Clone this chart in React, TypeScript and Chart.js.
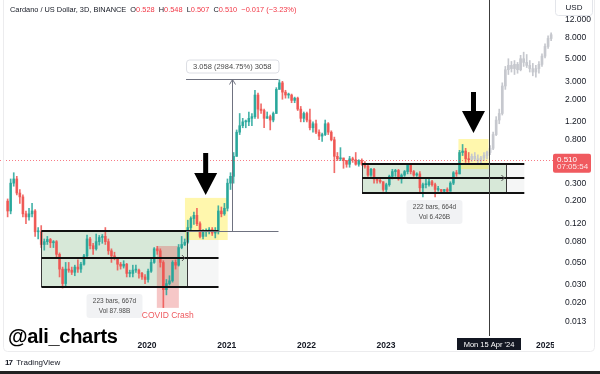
import React, { useEffect, useRef } from 'react';
import { Chart, registerables } from 'chart.js';
Chart.register(...registerables);

// ---- candle data (14-day candles, ADA/USD) ----
const candleStart = '2018-03-26';
const candleStepDays = 14;
const opens = [
  .20, .16, .30, .33, .24, .22, .15, .14, .15, .16,
  .10, .10, .075, .08, .084, .078, .08, .06, .043, .031,
  .043, .042, .04, .045, .043, .048, .058, .085, .073, .068,
  .08, .088, .09, .08, .065, .058, .055, .048, .046, .048,
  .039, .039, .042, .042, .039, .036, .034, .041, .05, .068,
  .065, .05, .027, .031, .033, .05, .047, .07, .075, .079,
  .11, .135, .145, .12, .09, .10, .10, .105, .097, .10,
  .16, .15, .17, .30, .35, .55, .95, 1.1, 1.2, 1.2,
  1.3, 1.35, 2.2, 1.6, 1.55, 1.3, 1.35, 1.25, 1.45, 2.5,
  2.9, 2.35, 2.2, 2.2, 1.95, 2.05, 1.6, 1.3, 1.45, 1.25,
  1.05, 1.15, .95, .87, .90, 1.15, .95, .80, .55, .52,
  .53, .50, .46, .52, .51, .46, .50, .46, .44, .36,
  .41, .33, .32, .31, .26, .29, .35, .39, .40, .33,
  .36, .39, .45, .39, .36, .37, .27, .29, .29, .31,
  .29, .26, .26, .25, .26, .25, .30, .38, .37, .60,
  .62, .52,
];
const highs = [
  .21, .33, .38, .35, .26, .23, .16, .17, .19, .165,
  .11, .115, .085, .09, .086, .082, .082, .062, .045, .05,
  .05, .045, .047, .053, .05, .06, .093, .088, .077, .095,
  .092, .094, .11, .085, .068, .063, .056, .05, .052, .049,
  .042, .047, .047, .043, .04, .038, .043, .055, .07, .072,
  .068, .052, .034, .037, .052, .053, .075, .09, .085, .13,
  .14, .156, .17, .125, .105, .107, .11, .11, .11, .18,
  .175, .19, .33, .38, .60, 1.0, 1.45, 1.3, 1.25, 1.5,
  1.45, 2.45, 2.3, 1.8, 1.6, 1.5, 1.4, 1.5, 2.6, 3.1,
  3.0, 2.45, 2.3, 2.25, 2.1, 2.1, 1.7, 1.5, 1.5, 1.6,
  1.2, 1.25, 1.0, .93, 1.25, 1.18, .98, .85, .60, .67,
  .53, .50, .55, .54, .60, .51, .52, .49, .45, .42,
  .42, .34, .33, .31, .30, .36, .41, .41, .41, .37,
  .40, .46, .46, .40, .38, .39, .30, .33, .34, .32,
  .30, .28, .26, .26, .27, .31, .39, .40, .63, .72,
  .66, .60,
];
const lows = [
  .14, .15, .28, .23, .19, .14, .12, .13, .14, .09,
  .085, .07, .066, .075, .07, .07, .055, .036, .028, .029,
  .04, .038, .037, .04, .04, .047, .055, .068, .06, .066,
  .074, .077, .075, .06, .05, .053, .042, .043, .044, .036,
  .036, .036, .04, .035, .034, .031, .032, .04, .049, .06,
  .045, .018, .024, .03, .032, .043, .046, .068, .073, .077,
  .10, .118, .115, .087, .085, .09, .095, .092, .087, .095,
  .14, .145, .16, .26, .30, .55, .90, 1.05, 1.05, 1.1,
  1.1, 1.3, 1.3, 1.45, 1.05, 1.3, 1.0, 1.2, 1.45, 2.5,
  2.0, 2.05, 2.05, 1.85, 1.85, 1.55, 1.2, 1.2, 1.2, 1.0,
  .95, .92, .80, .77, .88, .90, .78, .38, .50, .50,
  .42, .43, .43, .48, .45, .44, .45, .42, .35, .35,
  .30, .30, .30, .25, .24, .28, .33, .35, .32, .30,
  .35, .37, .37, .35, .35, .24, .22, .27, .28, .28,
  .22, .25, .24, .24, .24, .25, .29, .35, .37, .56,
  .48, .48,
];
const closes = [
  .16, .30, .33, .24, .22, .15, .14, .15, .16, .10,
  .10, .075, .08, .084, .078, .08, .06, .043, .031, .043,
  .042, .04, .045, .043, .048, .058, .085, .073, .068, .08,
  .088, .09, .08, .065, .058, .055, .048, .046, .048, .039,
  .039, .042, .042, .039, .036, .034, .041, .05, .068, .065,
  .05, .027, .031, .033, .05, .047, .07, .075, .079, .11,
  .135, .145, .12, .09, .10, .10, .105, .097, .10, .16,
  .15, .17, .30, .35, .55, .95, 1.1, 1.2, 1.2, 1.3,
  1.35, 2.2, 1.6, 1.55, 1.3, 1.35, 1.25, 1.45, 2.5, 2.9,
  2.35, 2.2, 2.2, 1.95, 2.05, 1.6, 1.3, 1.45, 1.25, 1.05,
  1.15, .95, .87, .90, 1.15, .95, .80, .55, .52, .53,
  .50, .46, .52, .51, .46, .50, .46, .44, .36, .41,
  .33, .32, .31, .26, .29, .35, .39, .40, .33, .36,
  .39, .45, .39, .36, .37, .27, .29, .29, .31, .29,
  .26, .26, .25, .26, .25, .30, .38, .37, .60, .62,
  .52, .51,
];
// projected "bars pattern" (grey ghost candles)
const ghostOpens = [.51, .55, .52, .50, .53, .56, .60, .66, .90, 1.25, 1.45, 2.7, 3.9, 4.3, 4.0, 4.4, 3.9, 5.0, 4.6, 4.3, 4.0, 3.7, 4.0, 4.4, 5.3, 6.6, 7.9];
const ghostHighs = [.58, .60, .57, .55, .60, .62, .70, .95, 1.35, 1.6, 2.9, 4.2, 5.0, 4.7, 4.8, 4.6, 5.4, 5.8, 5.5, 4.8, 4.5, 4.3, 4.7, 5.6, 7.0, 8.4, 9.0];
const ghostLows = [.49, .50, .47, .46, .50, .52, .57, .64, .88, 1.15, 1.4, 2.5, 3.5, 3.7, 3.5, 3.6, 3.8, 4.2, 4.1, 3.7, 3.4, 3.3, 3.6, 4.2, 5.1, 6.3, 7.5];
const ghostCloses = [.55, .52, .50, .53, .56, .60, .66, .90, 1.25, 1.45, 2.7, 3.9, 4.3, 4.0, 4.4, 3.9, 5.0, 4.6, 4.3, 4.0, 3.7, 4.0, 4.4, 5.3, 6.6, 7.9, 8.6];

// ---- axes ----
const yTicks = [12, 8, 5, 3, 2, 1.2, 0.8, 0.3, 0.2, 0.12, 0.08, 0.05, 0.03, 0.02, 0.013];
const yearTicks = [2020, 2021, 2022, 2023, 2025];

// ---- drawings (data coordinates) ----
const box1Dates = ['2018-09-04', '2020-07-02', '2020-11-24'];
const box1Levels = [0.1025, 0.055, 0.0287];
const box1Label = ['223 bars, 667d', 'Vol 87.98B'];
const box1LabelDate = '2019-08-05';
const box2Dates = ['2022-09-13', '2024-07-06', '2024-09-26'];
const box2Levels = [0.463, 0.337, 0.24];
const box2Label = ['222 bars, 664d', 'Vol 6.426B'];
const box2LabelDate = '2023-08-11';
const covidDates = ['2020-02-15', '2020-05-26'];
const covidLevels = [0.0725, 0.0179];
const covidText = 'COVID Crash';
const yellow1Dates = ['2020-06-23', '2021-01-05'];
const yellow1Levels = [0.215, 0.083];
const yellow2Dates = ['2023-11-29', '2024-04-15'];
const yellow2Levels = [0.814, 0.413];
const arrow1 = { date: '2020-09-26', from: 0.593, to: 0.2296 };
const arrow2 = { date: '2024-02-06', from: 2.36, to: 0.933 };
const measureDates = ['2020-06-28', '2021-01-23', '2021-08-26'];
const measureLevels = [0.10245, 3.1605];
const measureText = '3.058 (2984.75%) 3058';
const crosshairDate = '2024-04-15';
const crosshairText = "Mon 15 Apr '24";
const lastPrice = 0.51;
const lastPriceText = ['0.510', '07:05:54'];

const DAY = 86400000;
const YEAR = 365.25 * DAY;
const t2020 = Date.UTC(2020, 0, 1);
const xMin = t2020 - (147 / 79.66) * YEAR;
const xMax = t2020 + ((553 - 147) / 79.66) * YEAR;
const yMin = Math.pow(10, 1.0792 - 316 / 101.85);
const yMax = Math.pow(10, 1.0792 + 20 / 101.85);

const UP = 'rgba(38,166,154,0.85)';
const DOWN = 'rgba(239,83,80,0.85)';
const GHOST = '#c6c8ce';
const FONT = '"Liberation Sans", Arial, Helvetica, sans-serif';

const t0 = Date.parse(candleStart);
const candleX = (i: number) => t0 + (i * candleStepDays + 7) * DAY;

function rr(ctx: CanvasRenderingContext2D, x: number, y: number, w: number, h: number, r: number) {
  ctx.beginPath();
  if ((ctx as any).roundRect) (ctx as any).roundRect(x, y, w, h, r);
  else ctx.rect(x, y, w, h);
}

function drawArrow(ctx: CanvasRenderingContext2D, x: number, yTop: number, yTip: number) {
  const headH = 22, headW = 23, shaftW = 5;
  ctx.beginPath();
  ctx.moveTo(x - shaftW / 2, yTop);
  ctx.lineTo(x + shaftW / 2, yTop);
  ctx.lineTo(x + shaftW / 2, yTip - headH);
  ctx.lineTo(x + headW / 2, yTip - headH);
  ctx.lineTo(x, yTip);
  ctx.lineTo(x - headW / 2, yTip - headH);
  ctx.lineTo(x - shaftW / 2, yTip - headH);
  ctx.closePath();
  ctx.fill();
}

const drawingsPlugin = {
  id: 'drawings',
  beforeDatasetsDraw(chart: any) {
    const { ctx, chartArea: a, scales } = chart;
    const X = (d: string) => scales.x.getPixelForValue(Date.parse(d));
    const Y = (v: number) => scales.y.getPixelForValue(v);
    ctx.save();
    ctx.beginPath();
    ctx.rect(a.left, a.top, a.right - a.left, a.bottom - a.top);
    ctx.clip();
    for (const [dates, lv] of [[box1Dates, box1Levels], [box2Dates, box2Levels]] as any) {
      const x0 = X(dates[0]), x1 = X(dates[1]), x2 = X(dates[2]);
      const yT = Y(lv[0]), yB = Y(lv[2]);
      ctx.fillStyle = 'rgba(56,142,60,0.2)';
      ctx.fillRect(x0, yT, x1 - x0, yB - yT);
      ctx.fillStyle = 'rgba(120,123,134,0.07)';
      ctx.fillRect(x1, yT, x2 - x1, yB - yT);
    }
    ctx.fillStyle = 'rgba(225,70,70,0.3)';
    ctx.fillRect(X(covidDates[0]), Y(covidLevels[0]), X(covidDates[1]) - X(covidDates[0]), Y(covidLevels[1]) - Y(covidLevels[0]));
    ctx.fillStyle = 'rgba(255,235,59,0.42)';
    for (const [dates, lv] of [[yellow1Dates, yellow1Levels], [yellow2Dates, yellow2Levels]] as any) {
      ctx.fillRect(X(dates[0]), Y(lv[0]), X(dates[1]) - X(dates[0]), Y(lv[1]) - Y(lv[0]));
    }
    ctx.restore();
  },
  afterDatasetsDraw(chart: any) {
    const { ctx, chartArea: a, scales } = chart;
    const X = (d: string) => scales.x.getPixelForValue(Date.parse(d));
    const Y = (v: number) => scales.y.getPixelForValue(v);
    ctx.save();
    ctx.beginPath();
    ctx.rect(a.left, a.top, a.right - a.left, a.bottom - a.top);
    ctx.clip();

    // price line
    ctx.strokeStyle = 'rgba(242,54,69,0.65)';
    ctx.lineWidth = 1;
    ctx.setLineDash([1, 2]);
    const yp = Math.round(Y(lastPrice)) + 0.5;
    ctx.beginPath(); ctx.moveTo(a.left, yp); ctx.lineTo(a.right, yp); ctx.stroke();
    ctx.setLineDash([]);

    // boxes
    for (const [dates, lv, label, ld] of [[box1Dates, box1Levels, box1Label, box1LabelDate], [box2Dates, box2Levels, box2Label, box2LabelDate]] as any) {
      const x0 = X(dates[0]), x1 = X(dates[1]), x2 = X(dates[2]);
      const yT = Y(lv[0]), yB = Y(lv[2]);
      ctx.strokeStyle = '#3a3a3a';
      ctx.lineWidth = 1;
      ctx.beginPath();
      ctx.moveTo(Math.round(x0) + 0.5, yT); ctx.lineTo(Math.round(x0) + 0.5, yB);
      ctx.moveTo(Math.round(x1) + 0.5, yT); ctx.lineTo(Math.round(x1) + 0.5, yB);
      ctx.stroke();
      ctx.strokeStyle = '#111';
      ctx.lineWidth = 2;
      ctx.beginPath();
      for (const v of lv) {
        const yy = Math.round(Y(v));
        ctx.moveTo(x0, yy); ctx.lineTo(x2, yy);
      }
      ctx.stroke();
      // chevron on mid line
      const ym = Math.round(Y(lv[1]));
      ctx.lineWidth = 1;
      ctx.strokeStyle = '#555';
      ctx.beginPath();
      ctx.moveTo(x1 - 5, ym - 3); ctx.lineTo(x1 - 2, ym); ctx.lineTo(x1 - 5, ym + 3);
      ctx.stroke();
      // label
      const cx = X(ld);
      const top = yB + 7;
      ctx.fillStyle = 'rgba(240,241,243,0.95)';
      rr(ctx, cx - 28, top, 56, 24, 3);
      ctx.fill();
      ctx.fillStyle = '#4a4a4a';
      ctx.font = `6.5px ${FONT}`;
      ctx.textAlign = 'center';
      ctx.textBaseline = 'middle';
      ctx.fillText(label[0], cx, top + 7);
      ctx.fillText(label[1], cx, top + 17.5);
    }

    // covid text
    ctx.fillStyle = '#ee5a5f';
    ctx.font = `8.5px ${FONT}`;
    ctx.textAlign = 'center';
    ctx.textBaseline = 'middle';
    ctx.fillText(covidText, (X(covidDates[0]) + X(covidDates[1])) / 2, Y(covidLevels[1]) + 8);

    // measure tool
    const mx0 = X(measureDates[0]), mx = Math.round(X(measureDates[1])) + 0.5, mx1 = X(measureDates[2]);
    const mb = Math.round(Y(measureLevels[0])) + 0.5, mt = Math.round(Y(measureLevels[1])) + 0.5;
    ctx.strokeStyle = '#6f7280';
    ctx.lineWidth = 1;
    ctx.beginPath();
    ctx.moveTo(mx0, mb); ctx.lineTo(mx1, mb);
    ctx.moveTo(mx0, mt); ctx.lineTo(mx1, mt);
    ctx.moveTo(mx, mb); ctx.lineTo(mx, mt);
    ctx.moveTo(mx - 3, mt + 5); ctx.lineTo(mx, mt); ctx.lineTo(mx + 3, mt + 5);
    ctx.stroke();
    const lw = mx1 - mx0;
    ctx.fillStyle = '#fff';
    rr(ctx, mx0 + 0.5, mt - 19.5, lw, 13, 3);
    ctx.fill();
    ctx.strokeStyle = '#dcdee4';
    ctx.stroke();
    ctx.fillStyle = '#4a4a4a';
    ctx.font = `7.5px ${FONT}`;
    ctx.fillText(measureText, (mx0 + mx1) / 2, mt - 12.5);

    // arrows
    ctx.fillStyle = '#000';
    for (const ar of [arrow1, arrow2]) drawArrow(ctx, X(ar.date), Y(ar.from), Y(ar.to));

    // crosshair vertical
    const cxh = Math.round(X(crosshairDate)) + 0.5;
    ctx.strokeStyle = '#3c3c3c';
    ctx.beginPath(); ctx.moveTo(cxh, a.top); ctx.lineTo(cxh, a.bottom); ctx.stroke();
    ctx.restore();
  },
  afterDraw(chart: any) {
    const { ctx, chartArea: a, scales } = chart;
    const X = (d: string) => scales.x.getPixelForValue(Date.parse(d));
    const Y = (v: number) => scales.y.getPixelForValue(v);
    ctx.save();
    // price-scale pane clips the time-axis labels
    ctx.fillStyle = '#fff';
    ctx.fillRect(a.right + 1, a.bottom + 1, 10, 14);
    // date label
    const cxh = Math.round(X(crosshairDate));
    ctx.fillStyle = '#131722';
    ctx.fillRect(cxh - 32, a.bottom + 2, 64, 12);
    ctx.fillStyle = '#fff';
    ctx.font = `7.5px ${FONT}`;
    ctx.textAlign = 'center';
    ctx.textBaseline = 'middle';
    ctx.fillText(crosshairText, cxh, a.bottom + 8.5);
    // last price label
    const yp = Y(lastPrice);
    ctx.fillStyle = '#f05a5f';
    rr(ctx, a.right, yp - 6, 38, 19, 2);
    ctx.fill();
    ctx.fillStyle = '#fff';
    ctx.textAlign = 'left';
    ctx.font = `8px ${FONT}`;
    ctx.fillText(lastPriceText[0], a.right + 4, yp);
    ctx.fillStyle = 'rgba(255,255,255,0.85)';
    ctx.fillText(lastPriceText[1], a.right + 4, yp + 7.5);
    // USD box
    ctx.fillStyle = '#fff';
    rr(ctx, a.right + 2.5, -3.5, 37, 19, 3);
    ctx.fill();
    ctx.strokeStyle = '#e3e5ea';
    ctx.lineWidth = 1;
    ctx.stroke();
    ctx.fillStyle = '#131722';
    ctx.textAlign = 'center';
    ctx.font = `8px ${FONT}`;
    ctx.fillText('USD', a.right + 21, 8);
    // frame
    ctx.strokeStyle = '#ececee';
    rr(ctx, 3.5, -6.5, 591, 358, 4);
    ctx.stroke();
    ctx.restore();
  },
};

export default function App() {
  const ref = useRef<HTMLCanvasElement>(null);
  useEffect(() => {
    if (!ref.current) return;
    const realX = opens.map((_, i) => candleX(i));
    const ghostX = ghostOpens.map((_, i) => candleX(opens.length + i));
    const realCol = opens.map((o, i) => (closes[i] >= o ? UP : DOWN));
    const bar = (data: any[], color: any, w: number) => ({
      type: 'bar' as const,
      data,
      backgroundColor: color,
      barThickness: w,
      grouped: false,
      minBarLength: 1,
      borderWidth: 0,
    });
    const chart = new Chart(ref.current, {
      type: 'bar',
      data: {
        datasets: [
          bar(realX.map((x, i) => ({ x, y: [Math.min(opens[i], closes[i]), Math.max(opens[i], closes[i])] })), realCol, 2),
          bar(realX.map((x, i) => ({ x, y: [lows[i], highs[i]] })), realCol, 1),
          bar(ghostX.map((x, i) => ({ x, y: [Math.min(ghostOpens[i], ghostCloses[i]), Math.max(ghostOpens[i], ghostCloses[i])] })), GHOST, 2),
          bar(ghostX.map((x, i) => ({ x, y: [ghostLows[i], ghostHighs[i]] })), GHOST, 1),
        ] as any,
      },
      options: {
        responsive: false,
        devicePixelRatio: 1,
        animation: false,
        events: [],
        layout: { padding: 0 },
        plugins: { legend: { display: false }, tooltip: { enabled: false } },
        scales: {
          x: {
            type: 'linear',
            min: xMin,
            max: xMax,
            offset: false,
            grid: { display: false },
            border: { display: false },
            ticks: {
              autoSkip: false,
              maxRotation: 0,
              padding: -3,
              color: '#131722',
              font: { family: FONT, size: 8.5, weight: 'bold' },
              callback: (v: any) => String(new Date(v).getUTCFullYear()),
            },
            afterBuildTicks: (s: any) => { s.ticks = yearTicks.map((y) => ({ value: Date.UTC(y, 0, 1) })); },
            afterFit: (s: any) => { s.height = 38; s.paddingLeft = 0; s.paddingRight = 0; },
          },
          y: {
            type: 'logarithmic',
            position: 'right',
            min: yMin,
            max: yMax,
            grid: { display: false },
            border: { display: false },
            ticks: {
              autoSkip: false,
              padding: 4,
              color: '#131722',
              font: { family: FONT, size: 8.5 },
              callback: (v: any) => Number(v).toFixed(3),
            },
            afterBuildTicks: (s: any) => { s.ticks = yTicks.map((v) => ({ value: v })); },
            afterFit: (s: any) => { s.width = 47; s.paddingTop = 0; s.paddingBottom = 0; },
          },
        },
      } as any,
      plugins: [drawingsPlugin],
    });
    return () => chart.destroy();
  }, []);

  const red = { color: '#f23645' };
  return (
    <div style={{ position: 'fixed', left: 0, top: 0, width: 600, height: 374, background: '#fff', overflow: 'hidden' }}>
      <canvas ref={ref} width={600} height={374} style={{ position: 'absolute', left: 0, top: 0, width: 600, height: 374 }} />
      <div style={{ position: 'absolute', left: 10, top: 5, font: `7.4px ${FONT}`, color: '#131722', whiteSpace: 'pre' }}>
        {'Cardano / US Dollar, 3D, BINANCE  O'}<span style={red}>0.528</span>{'  H'}<span style={red}>0.548</span>{'  L'}<span style={red}>0.507</span>{'  C'}<span style={red}>0.510</span>{'  '}<span style={red}>−0.017 (−3.23%)</span>
      </div>
      <div style={{ position: 'absolute', left: 8, top: 326, font: `bold 20px ${FONT}`, color: '#000', lineHeight: '20px', letterSpacing: '-0.3px' }}>@ali_charts</div>
      <div style={{ position: 'absolute', left: 5, top: 358, font: `8px ${FONT}`, color: '#131722', whiteSpace: 'pre', lineHeight: '10px' }}>
        <span style={{ fontWeight: 'bold', letterSpacing: '-1px' }}>17</span>{'  TradingView'}
      </div>
      <div style={{ position: 'absolute', left: 0, top: 371, width: 600, height: 3, background: '#222' }} />
    </div>
  );
}
